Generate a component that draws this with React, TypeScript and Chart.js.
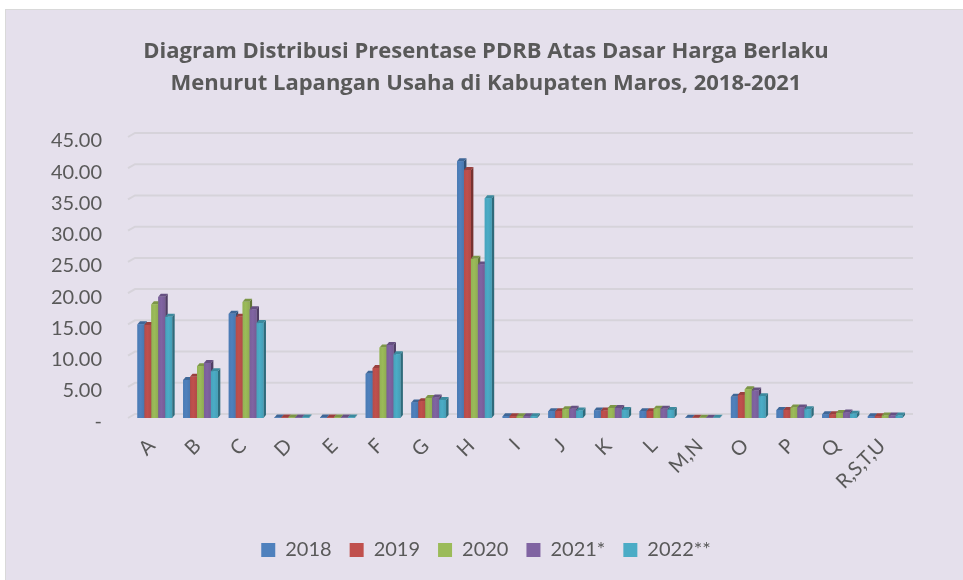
import React, { useEffect, useRef } from 'react';
import { Chart, registerables } from 'chart.js';

Chart.register(...registerables);

const titleLines = [
  'Diagram Distribusi Presentase PDRB Atas Dasar Harga Berlaku',
  'Menurut Lapangan Usaha di Kabupaten Maros, 2018-2021',
];
const categories = ['A', 'B', 'C', 'D', 'E', 'F', 'G', 'H', 'I', 'J', 'K', 'L', 'M,N', 'O', 'P', 'Q', 'R,S,T,U'];
const seriesLabels = ['2018', '2019', '2020', '2021*', '2022**'];
const values2018 = [15.0, 6.1, 16.7, 0.1, 0.1, 7.1, 2.5, 41.1, 0.3, 1.1, 1.2, 1.1, 0.05, 3.4, 1.3, 0.6, 0.3];
const values2019 = [14.9, 6.6, 16.2, 0.1, 0.1, 8.0, 2.7, 39.7, 0.3, 1.1, 1.2, 1.1, 0.05, 3.7, 1.3, 0.6, 0.3];
const values2020 = [18.2, 8.3, 18.6, 0.1, 0.1, 11.3, 3.2, 25.5, 0.3, 1.4, 1.6, 1.5, 0.05, 4.6, 1.7, 0.8, 0.4];
const values2021 = [19.4, 8.8, 17.4, 0.1, 0.1, 11.7, 3.3, 24.6, 0.3, 1.5, 1.6, 1.5, 0.05, 4.4, 1.7, 0.9, 0.4];
const values2022 = [16.2, 7.5, 15.2, 0.1, 0.1, 10.2, 2.9, 35.2, 0.3, 1.2, 1.3, 1.3, 0.05, 3.5, 1.4, 0.7, 0.4];
const seriesValues = [values2018, values2019, values2020, values2021, values2022];
const yMax = 45;
const yStep = 5;

const frontColors = ['#4F81BD', '#C0504D', '#9BBB59', '#8064A2', '#4BACC6'];

function shade(hex: string, f: number): string {
  const n = parseInt(hex.slice(1), 16);
  const r = Math.round(((n >> 16) & 255) * f);
  const g = Math.round(((n >> 8) & 255) * f);
  const b = Math.round((n & 255) * f);
  return `rgb(${r},${g},${b})`;
}

const TEXT = '#595959';
const FONT = 'Lato';

const grid3dPlugin = {
  id: 'grid3d',
  beforeDatasetsDraw(chart: any) {
    const { ctx, chartArea, scales } = chart;
    const y = scales.y;
    ctx.save();
    ctx.strokeStyle = '#D6D3DA';
    ctx.lineWidth = 2;
    y.ticks.forEach((t: any) => {
      const py = y.getPixelForValue(t.value);
      ctx.beginPath();
      ctx.moveTo(chartArea.left - 4, py);
      ctx.lineTo(chartArea.left + 3, py - 4);
      ctx.lineTo(chartArea.right + 5, py - 4);
      ctx.stroke();
    });
    ctx.restore();
  },
};

const bar3dPlugin = {
  id: 'bar3d',
  afterDatasetsDraw(chart: any) {
    const ctx = chart.ctx;
    const n = chart.data.labels.length;
    const dsCount = chart.data.datasets.length;
    const dx = 2.5;
    const dy = 3;
    ctx.save();
    for (let i = 0; i < n; i++) {
      for (let j = 0; j < dsCount; j++) {
        const el = chart.getDatasetMeta(j).data[i];
        if (!el) continue;
        const { x, y, base, width } = el.getProps(['x', 'y', 'base', 'width'], true);
        const l = x - width / 2;
        const r = x + width / 2;
        const col = frontColors[j];
        ctx.fillStyle = shade(col, 0.62);
        ctx.beginPath();
        ctx.moveTo(r, y);
        ctx.lineTo(r + dx, y - dy);
        ctx.lineTo(r + dx, base - dy);
        ctx.lineTo(r, base);
        ctx.closePath();
        ctx.fill();
        ctx.fillStyle = shade(col, 0.8);
        ctx.beginPath();
        ctx.moveTo(l, y);
        ctx.lineTo(l + dx, y - dy);
        ctx.lineTo(r + dx, y - dy);
        ctx.lineTo(r, y);
        ctx.closePath();
        ctx.fill();
        const grad = ctx.createLinearGradient(l, 0, r, 0);
        grad.addColorStop(0, shade(col, 0.95));
        grad.addColorStop(0.45, col);
        grad.addColorStop(1, shade(col, 0.92));
        ctx.fillStyle = grad;
        ctx.fillRect(l, y, width, base - y);
      }
    }
    ctx.restore();
  },
};

export default function App() {
  const ref = useRef<HTMLCanvasElement | null>(null);
  useEffect(() => {
    if (!ref.current) return;
    const chart = new Chart(ref.current, {
      type: 'bar',
      data: {
        labels: categories,
        datasets: seriesLabels.map((label, j) => ({
          label,
          data: seriesValues[j],
          backgroundColor: frontColors[j],
          borderWidth: 0,
          categoryPercentage: 0.76,
          barPercentage: 1.0,
        })),
      },
      plugins: [grid3dPlugin, bar3dPlugin],
      options: {
        responsive: false,
        animation: false,
        layout: { padding: { left: 0, right: 0, top: 0, bottom: 10 } },
        plugins: {
          title: {
            display: true,
            text: titleLines,
            color: TEXT,
            font: { family: 'Open Sans', size: 22, weight: 'bold', lineHeight: 1.4545 },
            padding: { top: 26, bottom: 37 },
          },
          legend: {
            position: 'bottom',
            labels: {
              boxWidth: 14,
              boxHeight: 14,
              padding: 18,
              color: TEXT,
              font: { family: FONT, size: 20 },
            },
          },
          tooltip: { enabled: false },
        },
        scales: {
          x: {
            grid: { display: false },
            border: { display: false },
            ticks: {
              minRotation: 45,
              maxRotation: 45,
              autoSkip: false,
              padding: 8,
              labelOffset: -3,
              color: TEXT,
              font: { family: FONT, size: 20 },
            },
            afterFit: (s: any) => {
              s.height = 104;
            },
          },
          y: {
            min: 0,
            max: yMax,
            grid: { display: false },
            border: { display: false },
            ticks: {
              stepSize: yStep,
              padding: 22,
              labelOffset: 4,
              color: TEXT,
              font: { family: FONT, size: 20 },
              callback: (v: any) => (Number(v) === 0 ? '-' : Number(v).toFixed(2)),
            },
            afterFit: (s: any) => {
              s.width = 126;
            },
          },
          y2: {
            position: 'right',
            grid: { display: false },
            border: { display: false },
            ticks: { display: false },
            afterFit: (s: any) => {
              s.width = 58;
            },
          },
        },
      },
    });
    return () => chart.destroy();
  }, []);
  return (
    <div
      style={{
        position: 'absolute',
        left: 5,
        top: 9,
        width: 962,
        height: 590,
        boxSizing: 'border-box',
        border: '1px solid #D9D9D9',
        background: '#E5E0EC',
      }}
    >
      <canvas ref={ref} width={960} height={570} style={{ display: 'block' }} />
    </div>
  );
}
